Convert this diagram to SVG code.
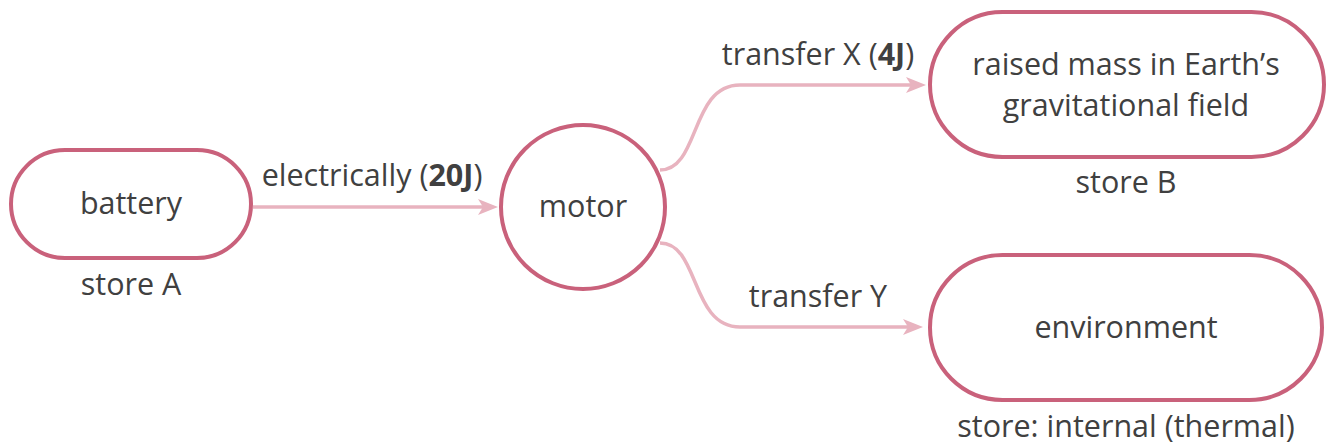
<svg xmlns="http://www.w3.org/2000/svg" width="1332" height="445" viewBox="0 0 1332 445">
<style>
.node{fill:#ffffff;stroke:#c9617b;stroke-width:4}
.t{font-family:"Open Sans",sans-serif;font-size:30.5px;fill:#404040;text-anchor:middle}
.b{font-weight:bold}
.edge{fill:none;stroke:#e8b3bf;stroke-width:3.5}
.head{fill:#e8b3bf}
</style>
<rect width="1332" height="445" fill="#ffffff"/>
<g id="connectors">
<path class="edge" d="M253,207 L490,207"/>
<path class="head" d="M478,199 L498,207 L478,215 L483,207 Z"/>
<path class="edge" d="M660,170 C700,170 690,85 740,85 L920,85"/>
<path class="head" d="M906,77 L926,85 L906,93 L911,85 Z"/>
<path class="edge" d="M660,243 C700,243 690,327 740,327 L916,327"/>
<path class="head" d="M903,319 L923,327 L903,335 L908,327 Z"/>
<text class="t" x="372" y="186">electrically (<tspan class="b">20J</tspan>)</text>
<text class="t" x="818" y="65">transfer X (<tspan class="b">4J</tspan>)</text>
<text class="t" x="818" y="307">transfer Y</text>
</g>
<g id="battery">
<rect class="node" x="11" y="150" width="240" height="108" rx="54"/>
<text class="t" x="131" y="214">battery</text>
<text class="t" x="131" y="295">store A</text>
</g>
<g id="motor">
<circle class="node" cx="583" cy="207" r="82"/>
<text class="t" x="583" y="217">motor</text>
</g>
<g id="storeB">
<rect class="node" x="930" y="12" width="394" height="145" rx="72.5"/>
<text class="t" x="1126" y="75">raised mass in Earth’s</text>
<text class="t" x="1126" y="116">gravitational field</text>
<text class="t" x="1126" y="193">store B</text>
</g>
<g id="environment">
<rect class="node" x="930" y="255" width="392" height="145" rx="72.5"/>
<text class="t" x="1126" y="338">environment</text>
<text class="t" x="1126" y="437">store: internal (thermal)</text>
</g>
</svg>
